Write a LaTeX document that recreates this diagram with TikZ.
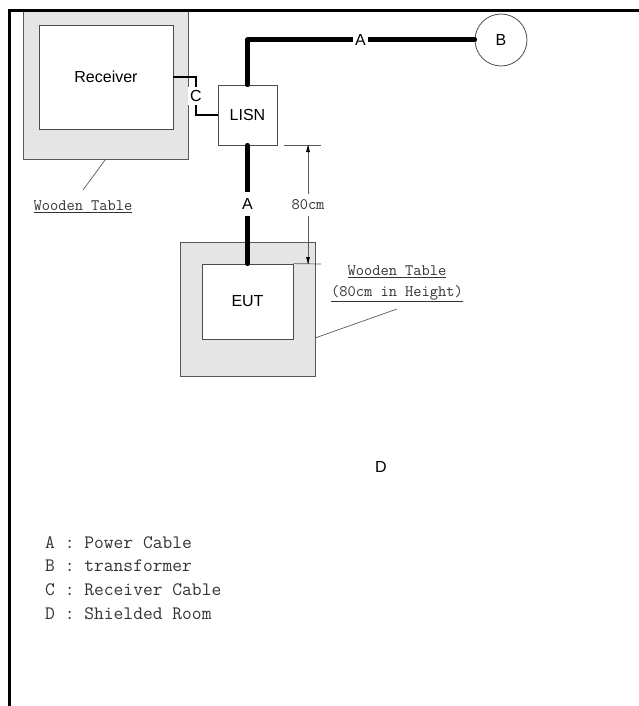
\documentclass[tikz,border=0pt]{standalone}
\usepackage{fontspec}
\newfontfamily\labelfont{Liberation Sans}
\begin{document}
\begin{tikzpicture}[x=1pt,y=1pt]
\tikzstyle{every node}+=[inner sep=0pt]
\tikzstyle{table}=[draw=black!65, line width=0.8pt, fill=black!10]
\tikzstyle{box}=[draw=black!70, line width=0.8pt, fill=white, font=\labelfont\fontsize{16}{19}\selectfont]
\tikzstyle{power}=[line width=5pt, line cap=round, line join=round]
\tikzstyle{rxcable}=[line width=2pt]
\tikzstyle{tag}=[fill=white, inner xsep=2pt, inner ysep=6pt, font=\labelfont\fontsize{16}{19}\selectfont]
\tikzstyle{note}=[font=\ttfamily\fontsize{16}{21}\selectfont, text=black!80, align=center]
\tikzstyle{legend}=[anchor=base west, font=\ttfamily\fontsize{19}{19}\selectfont, text=black!80]
\tikzstyle{thinline}=[draw=black!65, line width=0.7pt]
\useasboundingbox (0,0) rectangle (639,-706);
% tables
\node [table, minimum width=165, minimum height=148] (rtab) at (105.5,-85) {};
\node [table, minimum width=135, minimum height=134] (etab) at (247.5,-309) {};
% equipment
\node [box, minimum width=134, minimum height=104] (rcv) at (106,-77) {Receiver};
\node [box, minimum width=59, minimum height=60] (lisn) at (247.5,-115) {LISN};
\node [box, minimum width=91, minimum height=75] (eut) at (247.5,-301.5) {EUT};
\node [box, circle, minimum size=52] (trafo) at (501,-40) {B};
% cables
\draw [power] (lisn.north) |- (trafo.west);
\node [tag] (a1) at (360.5,-40) {A};
\draw [power] (lisn.south) -- (eut.north);
\node [tag] (a2) at (247.5,-204) {A};
\node [tag, inner ysep=3pt] (cl) at (196,-96) {C};
\draw [rxcable] (rcv.east) -| (cl.north);
\draw [rxcable] (cl.south) |- (lisn.west);
% height
\draw [thinline] (284,-145) -- (321,-145);
\draw [thinline] (eut.north east) -- (321,-264);
\draw [thinline] (308,-145) -- (308,-264);
\fill [black] (308,-145) -- (306,-152) -- (310,-152);
\fill [black] (308,-264) -- (306,-257) -- (310,-257);
\node [note, fill=white, inner ysep=6pt] (hgt) at (308,-205) {80cm};
% notes
\node [note] (wt1) at (83,-207) {\underline{Wooden Table}};
\draw [thinline] (rtab.south) -- (83,-190);
\node [note] (wt2) at (397,-284) {\underline{Wooden Table}\\\underline{(80cm in Height)}};
\draw [thinline] (315,-338) -- (397,-309);
\node [box, draw=none, fill=none] (room) at (381,-467) {D};
% legend
\node [legend] (la) at (45,-548) {A : Power Cable};
\node [legend] (lb) at (45,-571.7) {B : transformer};
\node [legend] (lc) at (45,-595.4) {C : Receiver Cable};
\node [legend] (ld) at (45,-619) {D : Shielded Room};
% shielded room
\draw [line width=3pt] (9.5,-706) -- (9.5,-11) -- (639,-11);
\end{tikzpicture}
\end{document}
